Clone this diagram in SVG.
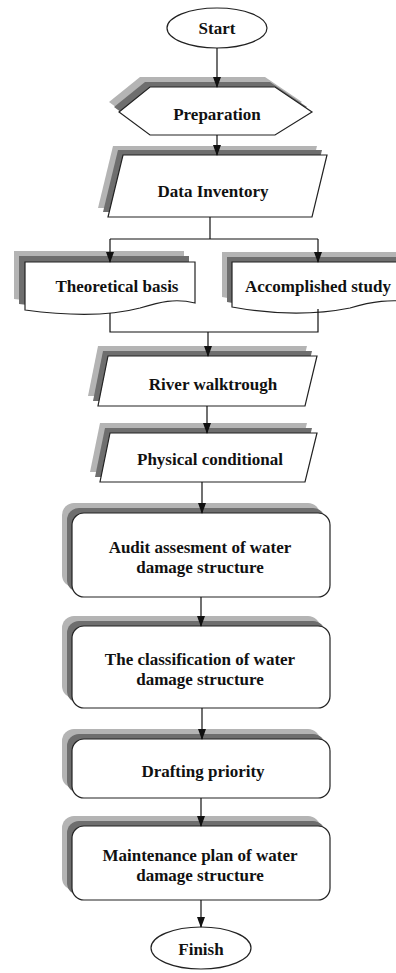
<svg xmlns="http://www.w3.org/2000/svg" width="396" height="973" viewBox="0 0 396 973">
<style>
.shape{fill:#fff;stroke:#222;stroke-width:1.2}
.sh1{fill:#b4b4b4}
.sh2{fill:#6e6e6e}
.t{font-family:"Liberation Serif","Times New Roman",serif;font-weight:bold;font-size:17px;fill:#111;text-anchor:middle}
.c{fill:none;stroke:#111;stroke-width:1.2}
</style>
<defs>
<marker id="ah" markerUnits="userSpaceOnUse" markerWidth="8" markerHeight="11" refX="4" refY="10" orient="0" viewBox="0 0 8 11">
<path d="M0,0 L8,0 L4,11 z" fill="#111"/>
</marker>
</defs>
<rect width="396" height="973" fill="#fff"/>

<g id="start">
<ellipse class="shape" cx="217" cy="28" rx="50" ry="20"/>
<text class="t" x="217" y="34">Start</text>
</g>

<g id="preparation">
<path class="sh1" transform="translate(-10,-10)" d="M150,87 H275 L312,112 L275,135 H150 L119,112 Z"/>
<path class="sh2" transform="translate(-5,-5)" d="M150,87 H275 L312,112 L275,135 H150 L119,112 Z"/>
<path class="shape" d="M150,87 H275 L312,112 L275,135 H150 L119,112 Z"/>
<text class="t" x="217" y="120">Preparation</text>
</g>

<g id="data-inventory">
<path class="sh1" transform="translate(-10,-9)" d="M123,155 H327 L312,217 H108 Z"/>
<path class="sh2" transform="translate(-5,-5)" d="M123,155 H327 L312,217 H108 Z"/>
<path class="shape" d="M123,155 H327 L312,217 H108 Z"/>
<text class="t" x="213" y="197">Data Inventory</text>
</g>

<g id="theoretical-basis">
<path class="sh1" transform="translate(-11,-11)" d="M25,262 H195 V303 C175,298 160,302 140,308 C110,316 70,316 25,310 Z"/>
<path class="sh2" transform="translate(-6,-6)" d="M25,262 H195 V303 C175,298 160,302 140,308 C110,316 70,316 25,310 Z"/>
<path class="shape" d="M25,262 H195 V303 C175,298 160,302 140,308 C110,316 70,316 25,310 Z"/>
<text class="t" x="117" y="292">Theoretical basis</text>
</g>

<g id="accomplished-study">
<path class="sh1" transform="translate(-10,-10)" d="M232,262 H420 V303 C390,298 370,302 350,308 C310,316 270,314 232,307 Z"/>
<path class="sh2" transform="translate(-5,-5)" d="M232,262 H420 V303 C390,298 370,302 350,308 C310,316 270,314 232,307 Z"/>
<path class="shape" d="M232,262 H420 V303 C390,298 370,302 350,308 C310,316 270,314 232,307 Z"/>
<text class="t" x="245" y="292" style="text-anchor:start">Accomplished study</text>
</g>

<g id="river-walktrough">
<path class="sh1" transform="translate(-10,-10)" d="M108,356 H317 L305,406 H98 Z"/>
<path class="sh2" transform="translate(-5,-5)" d="M108,356 H317 L305,406 H98 Z"/>
<path class="shape" d="M108,356 H317 L305,406 H98 Z"/>
<text class="t" x="213" y="390">River walktrough</text>
</g>

<g id="physical-conditional">
<path class="sh1" transform="translate(-10,-10)" d="M110,433 H317 L305,482 H100 Z"/>
<path class="sh2" transform="translate(-5,-5)" d="M110,433 H317 L305,482 H100 Z"/>
<path class="shape" d="M110,433 H317 L305,482 H100 Z"/>
<text class="t" x="210" y="465">Physical conditional</text>
</g>

<g id="audit">
<rect class="sh1" x="62" y="503" width="258" height="84" rx="12"/>
<rect class="sh2" x="67" y="508" width="258" height="84" rx="12"/>
<rect class="shape" x="72" y="513" width="258" height="84" rx="12"/>
<text class="t" x="200" y="553">Audit assesment of water</text>
<text class="t" x="200" y="573">damage structure</text>
</g>

<g id="classification">
<rect class="sh1" x="62" y="616" width="258" height="82" rx="12"/>
<rect class="sh2" x="67" y="621" width="258" height="82" rx="12"/>
<rect class="shape" x="72" y="626" width="258" height="82" rx="12"/>
<text class="t" x="200" y="665">The classification of water</text>
<text class="t" x="200" y="685">damage structure</text>
</g>

<g id="drafting">
<rect class="sh1" x="62" y="729" width="258" height="59" rx="12"/>
<rect class="sh2" x="67" y="734" width="258" height="59" rx="12"/>
<rect class="shape" x="72" y="739" width="258" height="59" rx="12"/>
<text class="t" x="203" y="777">Drafting priority</text>
</g>

<g id="maintenance">
<rect class="sh1" x="62" y="816" width="258" height="74" rx="12"/>
<rect class="sh2" x="67" y="821" width="258" height="74" rx="12"/>
<rect class="shape" x="72" y="826" width="258" height="74" rx="12"/>
<text class="t" x="200" y="861">Maintenance plan of water</text>
<text class="t" x="200" y="881">damage structure</text>
</g>

<g id="finish">
<ellipse class="shape" cx="201" cy="948" rx="50" ry="21"/>
<text class="t" x="201" y="955">Finish</text>
</g>

<g id="connectors">
<path class="c" d="M217,48 V87" marker-end="url(#ah)"/>
<path class="c" d="M217,135 V155" marker-end="url(#ah)"/>
<path class="c" d="M210,217 V239"/>
<path class="c" d="M110,239 H318"/>
<path class="c" d="M110,239 V262" marker-end="url(#ah)"/>
<path class="c" d="M318,239 V262" marker-end="url(#ah)"/>
<path class="c" d="M110,313 V332 H318 V309"/>
<path class="c" d="M208,332 V356" marker-end="url(#ah)"/>
<path class="c" d="M207,406 V433" marker-end="url(#ah)"/>
<path class="c" d="M202,482 V513" marker-end="url(#ah)"/>
<path class="c" d="M201,597 V626" marker-end="url(#ah)"/>
<path class="c" d="M202,708 V739" marker-end="url(#ah)"/>
<path class="c" d="M201,798 V826" marker-end="url(#ah)"/>
<path class="c" d="M201,900 V927" marker-end="url(#ah)"/>
</g>
</svg>
